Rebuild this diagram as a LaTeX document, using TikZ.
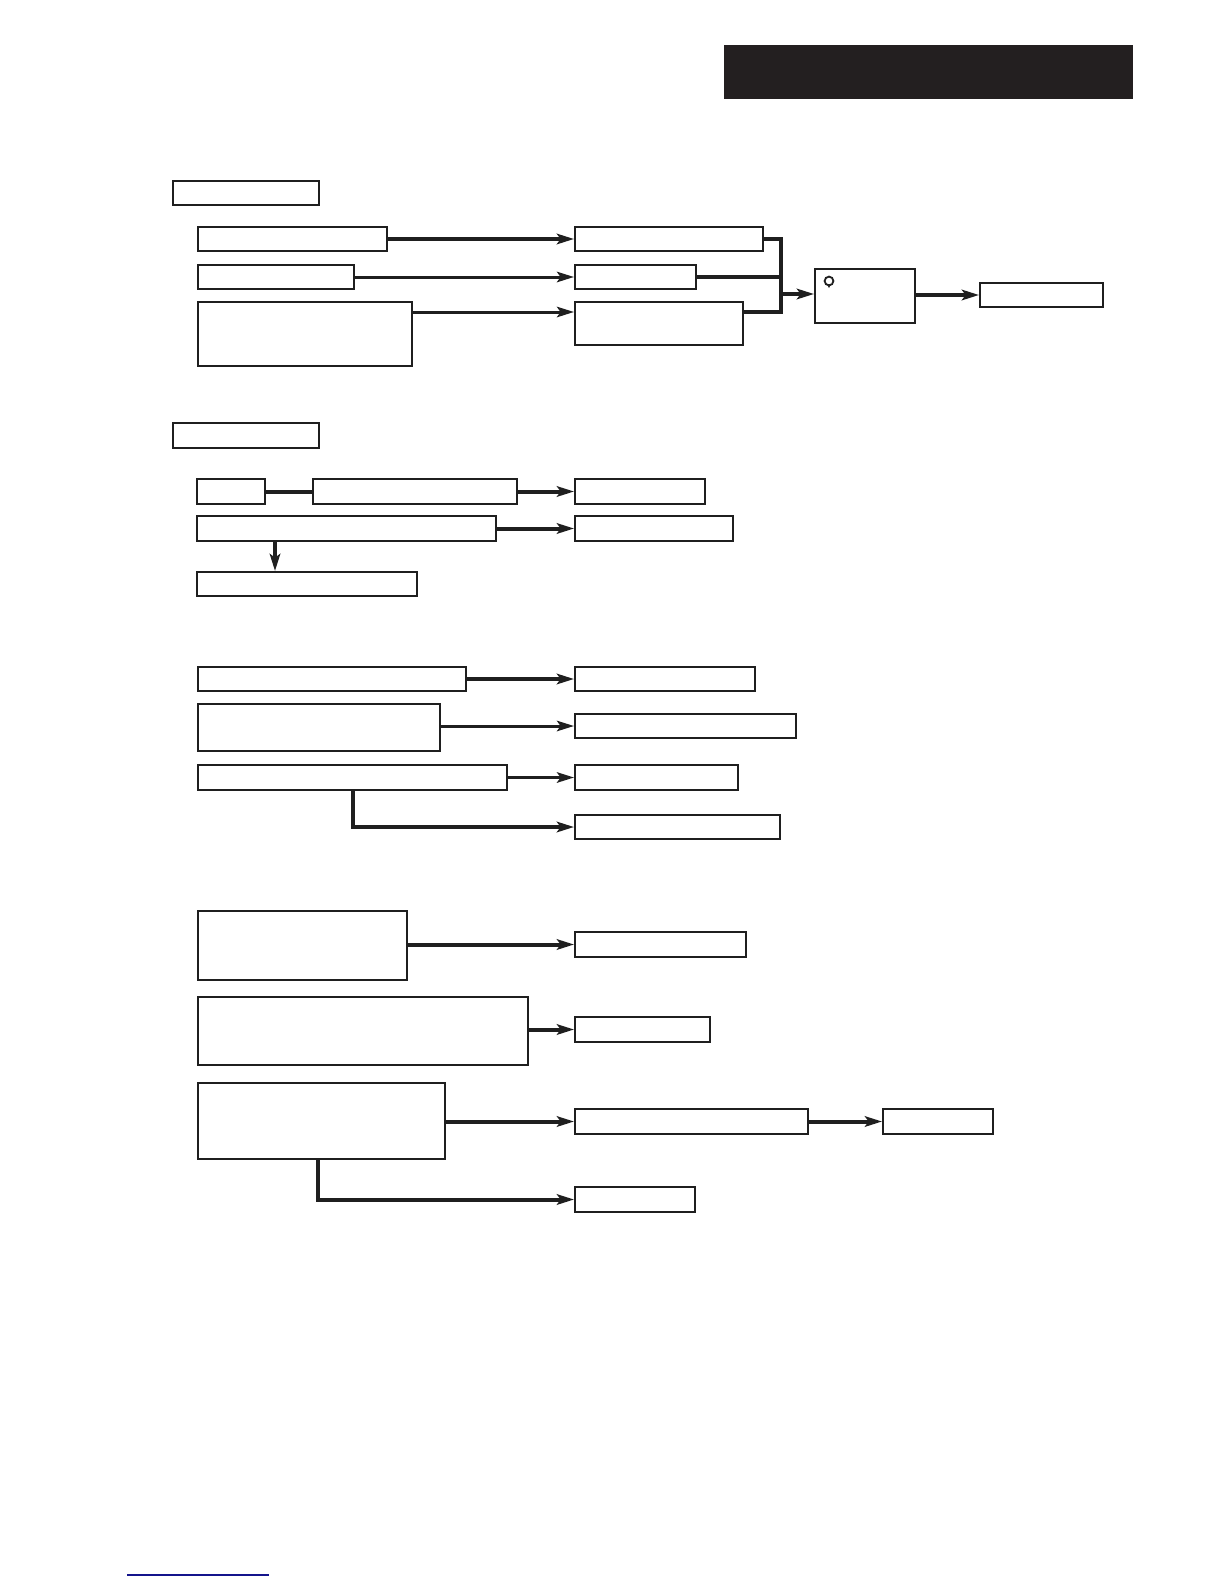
\documentclass[tikz,border=0pt]{standalone}
\usepackage{tikz}
\usetikzlibrary{arrows.meta,positioning,calc}
\definecolor{headfill}{RGB}{35,31,32}
\definecolor{linkblue}{RGB}{20,20,140}

\begin{document}
\begin{tikzpicture}[
  x=0.5pt, y=-0.5pt,
  box/.style={draw=black!88, line width=1pt, inner sep=0pt, anchor=north west},
  head/.style={fill=headfill, draw=none, inner sep=0pt, anchor=north west},
  arrow/.style={-{Stealth[length=8.5pt, width=5.2pt, inset=1.8pt]}, line width=2pt, black!88},
  thin arrow/.style={arrow, line width=1.5pt},
  link/.style={line width=2pt, black!88}
]
  \useasboundingbox (0,0) rectangle (1224,1584);

  \node[head, minimum width=204.5pt, minimum height=27pt] (header) at (724,45) {};

  \node[box, minimum width=73pt, minimum height=12pt] (titleA) at (172,180) {};
  \node[box, minimum width=94.5pt, minimum height=12pt] (inA) at (197,226) {};
  \node[box, minimum width=94pt, minimum height=12pt] (midA) at (574,226) {};
  \node[box, minimum width=78pt, minimum height=12pt] (inB) at (197,264) {};
  \node[box, minimum width=60.5pt, minimum height=12pt] (midB) at (574,264) {};
  \node[box, minimum width=107pt, minimum height=32pt] (inC) at (197,301) {};
  \node[box, minimum width=84pt, minimum height=21.5pt] (midC) at (574,301) {};
  \node[box, minimum width=50pt, minimum height=27pt] (gate) at (814,268) {};
  \node[box, minimum width=61.5pt, minimum height=12pt] (result) at (979,282) {};
  \coordinate (join) at (781,294);

  \node[box, minimum width=73pt, minimum height=12.5pt] (titleB) at (172,422) {};
  \node[box, minimum width=34pt, minimum height=12.5pt] (keyA) at (196,478) {};
  \node[box, minimum width=102pt, minimum height=12.5pt] (keyB) at (312,478) {};
  \node[box, minimum width=65pt, minimum height=12.5pt] (keyOut) at (574,478) {};
  \node[box, minimum width=149.5pt, minimum height=12.5pt] (modeA) at (196,515) {};
  \node[box, minimum width=79pt, minimum height=12.5pt] (modeOut) at (574,515) {};
  \node[box, minimum width=110pt, minimum height=12pt] (modeSub) at (196,571) {};

  \node[box, minimum width=134pt, minimum height=12pt] (setA) at (197,666) {};
  \node[box, minimum width=90pt, minimum height=12pt] (setAout) at (574,666) {};
  \node[box, minimum width=121pt, minimum height=23.5pt] (setB) at (197,703) {};
  \node[box, minimum width=110.5pt, minimum height=12pt] (setBout) at (574,713) {};
  \node[box, minimum width=154.5pt, minimum height=12.5pt] (setC) at (197,764) {};
  \node[box, minimum width=81.5pt, minimum height=12.5pt] (setCout) at (574,764) {};
  \node[box, minimum width=102.5pt, minimum height=12pt] (setD) at (574,814) {};

  \node[box, minimum width=104.5pt, minimum height=34.5pt] (errA) at (197,910) {};
  \node[box, minimum width=85.5pt, minimum height=12.5pt] (errAout) at (574,931) {};
  \node[box, minimum width=165pt, minimum height=34pt] (errB) at (197,996) {};
  \node[box, minimum width=67.5pt, minimum height=12.5pt] (errBout) at (574,1016) {};
  \node[box, minimum width=123.5pt, minimum height=38pt] (errC) at (197,1082) {};
  \node[box, minimum width=116.5pt, minimum height=12.5pt] (errCout) at (574,1108) {};
  \node[box, minimum width=55pt, minimum height=12.5pt] (errCend) at (882,1108) {};
  \node[box, minimum width=60pt, minimum height=12.5pt] (errD) at (574,1186) {};

  \draw[line width=0.9pt, black!88] ([shift={(15,13)}]gate.north west) circle (2.2pt);
  \fill[black!88] ([shift={(12.8,16)}]gate.north west) -- ([shift={(17.2,16)}]gate.north west) -- ([shift={(15,20)}]gate.north west) -- cycle;

  \draw[arrow] (inA) -- (midA);
  \draw[thin arrow] (inB.east |- midB) -- (midB);
  \draw[thin arrow] ([yshift=-5.5pt]inC.north east) -- ([yshift=-5.5pt]midC.north west);
  \draw[link] (midA.east) -| (join);
  \draw[link] (midB.east) -- (midB.east -| join);
  \draw[link] ([yshift=-5.5pt]midC.north east) -| (join);
  \draw[arrow] (join) -- (gate.west |- join);
  \draw[arrow] (gate.east |- result) -- (result);

  \draw[link] (keyA) -- (keyB);
  \draw[arrow] (keyB) -- (keyOut);
  \draw[arrow] (modeA) -- (modeOut);
  \draw[arrow] ([xshift=39.5pt]modeA.south west) -- ([xshift=39.5pt]modeSub.north west);

  \draw[arrow] (setA) -- (setAout);
  \draw[thin arrow] (setB.east |- setBout) -- (setBout);
  \draw[thin arrow] (setC) -- (setCout);
  \draw[arrow] ([xshift=78pt]setC.south west) |- (setD);

  \draw[arrow] (errA.east |- errAout) -- (errAout);
  \draw[arrow] (errB.east |- errBout) -- (errBout);
  \draw[arrow] (errC.east |- errCout) -- (errCout);
  \draw[arrow] (errCout) -- (errCend);
  \draw[arrow] ([xshift=60.5pt]errC.south west) |- (errD);

  \draw[line width=1pt, linkblue] (127,1575) -- (269,1575);
\end{tikzpicture}
\end{document}
